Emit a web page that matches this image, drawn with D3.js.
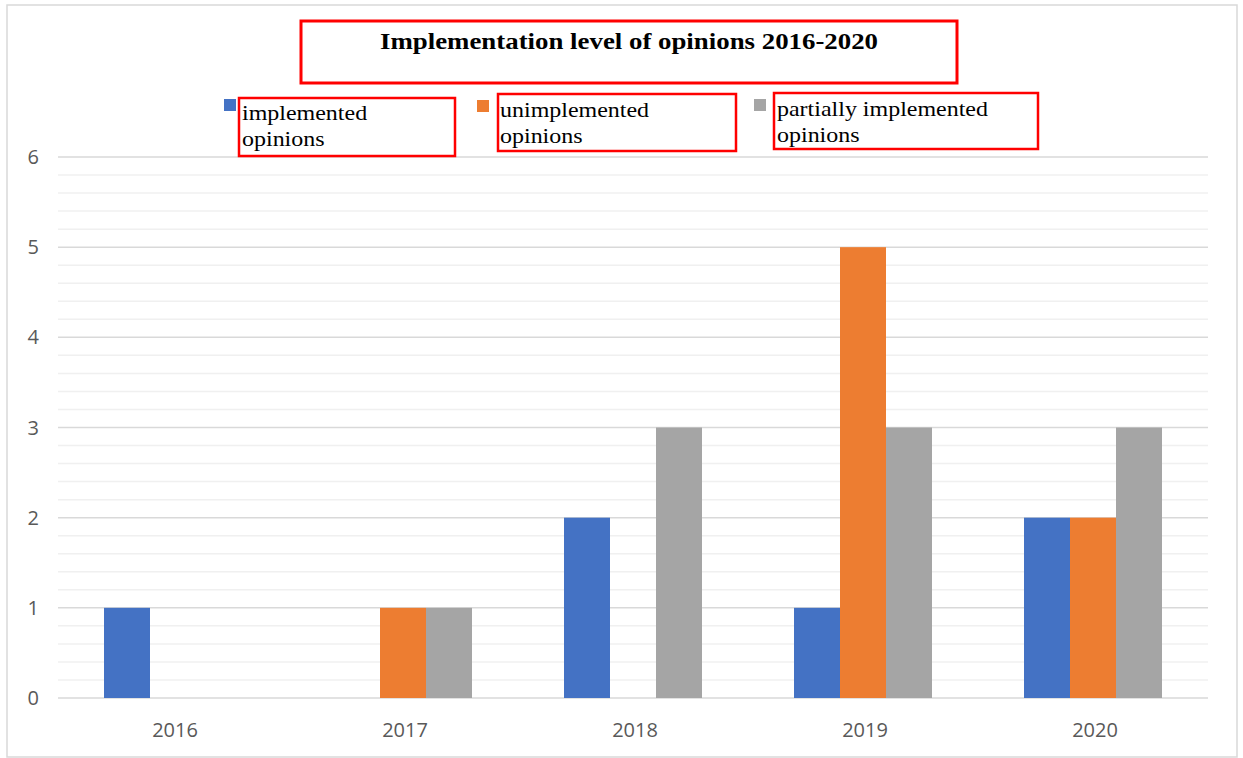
<!DOCTYPE html>
<html>
<head>
<meta charset="utf-8">
<script src="https://cdn.jsdelivr.net/npm/d3@7"></script>
<style>
  html, body { margin: 0; padding: 0; background: #fff; }
  svg { display: block; }
</style>
</head>
<body>
<svg id="chart" width="1243" height="758"></svg>
<script>
const years = ["2016", "2017", "2018", "2019", "2020"];
const seriesNames = ["implemented opinions", "unimplemented opinions", "partially implemented opinions"];
const implemented = [1, 0, 2, 1, 2];
const unimplemented = [0, 1, 0, 5, 2];
const partial = [0, 1, 3, 3, 3];
const yTicks = [0, 1, 2, 3, 4, 5, 6];
const colors = ["#4472c4", "#ed7d31", "#a5a5a5"];

const values = [implemented, unimplemented, partial];

const svg = d3.select("#chart");

// outer chart border
svg.append("rect")
  .attr("x", 7).attr("y", 5)
  .attr("width", 1230).attr("height", 752)
  .attr("fill", "none")
  .attr("stroke", "#d9d9d9")
  .attr("stroke-width", 1.5);

const plotLeft = 58, plotRight = 1208;
const y = d3.scaleLinear().domain([0, 6]).range([698, 157]);
const x = d3.scaleBand().domain(years).range([plotLeft, plotRight]).paddingInner(0.4).paddingOuter(0.2);
const xs = d3.scaleBand().domain(d3.range(3)).range([0, x.bandwidth()]);

// minor gridlines
svg.append("g")
  .selectAll("line")
  .data(d3.range(0, 6.001, 0.2).filter(v => Math.abs(v - Math.round(v)) > 0.01))
  .join("line")
  .attr("x1", plotLeft).attr("x2", plotRight)
  .attr("y1", d => y(d)).attr("y2", d => y(d))
  .attr("stroke", "#f0f0f0")
  .attr("stroke-width", 1.5);

// major gridlines
svg.append("g")
  .selectAll("line")
  .data(yTicks)
  .join("line")
  .attr("x1", plotLeft).attr("x2", plotRight)
  .attr("y1", d => y(d)).attr("y2", d => y(d))
  .attr("stroke", "#d9d9d9")
  .attr("stroke-width", 1.5);

// y labels
svg.append("g")
  .selectAll("text")
  .data(yTicks)
  .join("text")
  .attr("x", 39)
  .attr("y", d => y(d) + 7)
  .attr("text-anchor", "end")
  .attr("font-family", "'Open Sans', sans-serif")
  .attr("font-size", 20)
  .attr("fill", "#595959")
  .text(d => d);

// bars
const groups = svg.append("g")
  .selectAll("g")
  .data(years)
  .join("g")
  .attr("transform", d => `translate(${x(d)},0)`);

groups.selectAll("rect")
  .data((yr, i) => values.map((s, k) => ({ k, v: s[i] })).filter(d => d.v > 0))
  .join("rect")
  .attr("x", d => xs(d.k))
  .attr("width", xs.bandwidth())
  .attr("y", d => y(d.v))
  .attr("height", d => y(0) - y(d.v))
  .attr("fill", d => colors[d.k]);

// x labels
svg.append("g")
  .selectAll("text")
  .data(years)
  .join("text")
  .attr("x", d => x(d) + x.bandwidth() / 2 + 2)
  .attr("y", 737)
  .attr("text-anchor", "middle")
  .attr("font-family", "'Open Sans', sans-serif")
  .attr("font-size", 20)
  .attr("fill", "#595959")
  .text(d => d);

// title with red box
svg.append("rect")
  .attr("x", 301).attr("y", 21)
  .attr("width", 656).attr("height", 62)
  .attr("fill", "none")
  .attr("stroke", "#ff0000")
  .attr("stroke-width", 3);

svg.append("text")
  .attr("x", 380)
  .attr("y", 49)
  .attr("font-family", "'Liberation Serif', 'Times New Roman', serif")
  .attr("font-weight", "bold")
  .attr("font-size", 23)
  .attr("fill", "#000")
  .attr("textLength", 498)
  .attr("lengthAdjust", "spacingAndGlyphs")
  .text("Implementation level of opinions 2016-2020");

// legend
const legend = [
  { sq: [224, 99], box: [239, 98, 216, 58], tx: 242, base: 120, lines: ["implemented", "opinions"] },
  { sq: [477, 100], box: [498, 94, 238, 57], tx: 500, base: 117, lines: ["unimplemented", "opinions"] },
  { sq: [754, 99], box: [774, 93, 264, 56], tx: 777, base: 116, lines: ["partially implemented", "opinions"] }
];

legend.forEach((l, i) => {
  svg.append("rect")
    .attr("x", l.sq[0]).attr("y", l.sq[1])
    .attr("width", 12).attr("height", 12)
    .attr("fill", colors[i]);
  svg.append("rect")
    .attr("x", l.box[0]).attr("y", l.box[1])
    .attr("width", l.box[2]).attr("height", l.box[3])
    .attr("fill", "none")
    .attr("stroke", "#ff0000")
    .attr("stroke-width", 2.5);
  const t = svg.append("text")
    .attr("transform", `translate(${l.tx},0) scale(1.09,1)`)
    .attr("font-family", "'Liberation Serif', 'Times New Roman', serif")
    .attr("font-size", 22)
    .attr("fill", "#000");
  l.lines.forEach((line, j) => {
    t.append("tspan")
      .attr("x", 0)
      .attr("y", l.base + j * 26)
      .text(line);
  });
});
</script>
</body>
</html>
